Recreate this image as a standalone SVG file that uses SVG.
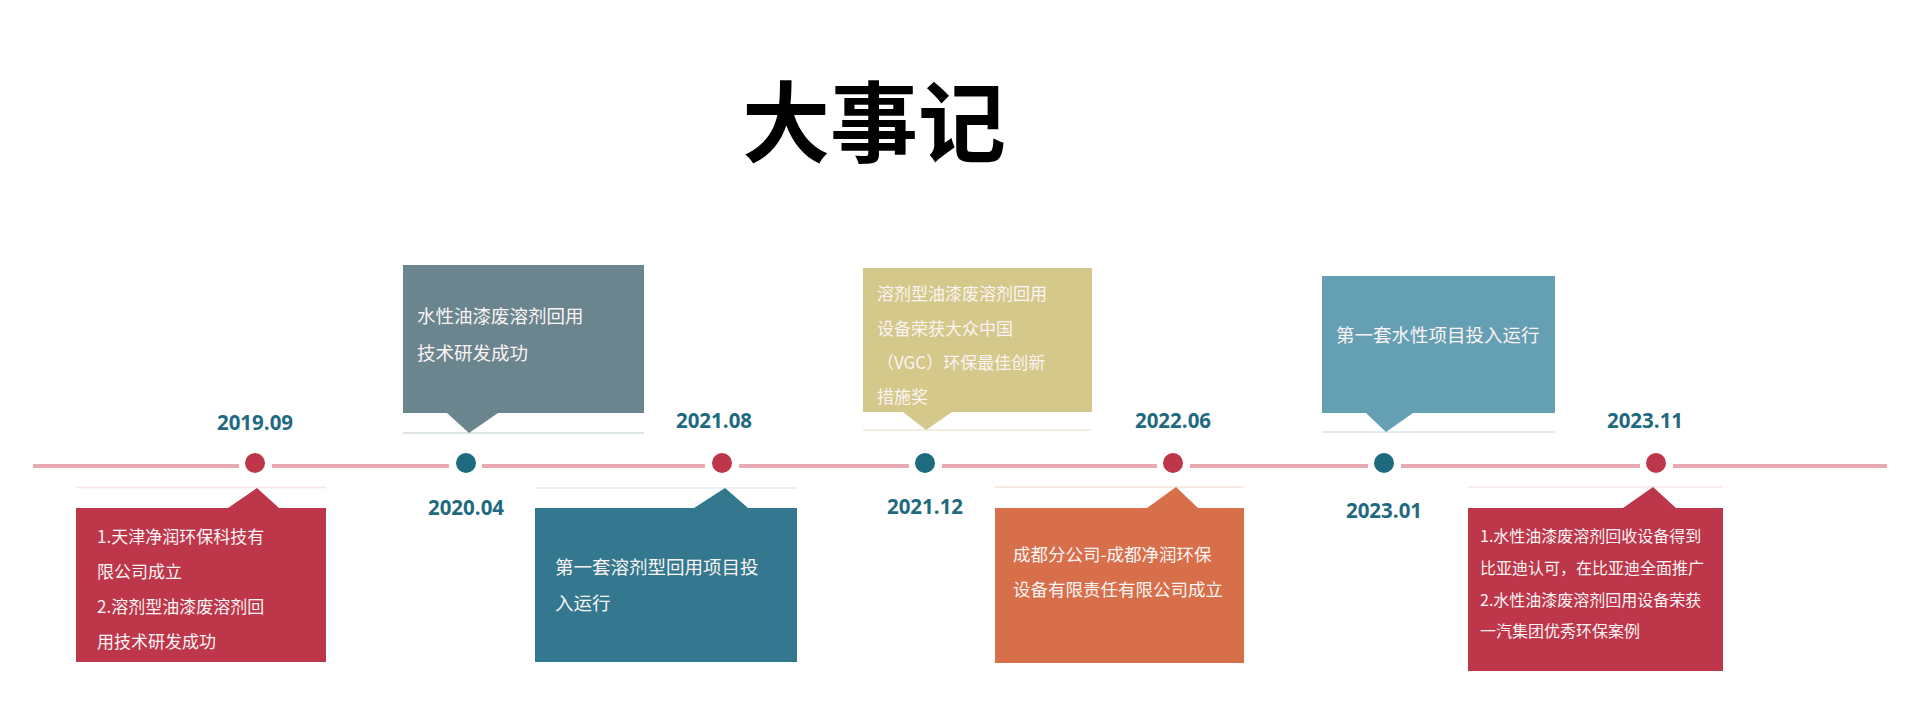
<svg xmlns="http://www.w3.org/2000/svg" width="1920" height="706" viewBox="0 0 1920 706">
<style>
.title{font-family:"Noto Sans CJK SC","Noto Sans",sans-serif;font-weight:700;font-size:88px;fill:#000}
.date{font-family:"Open Sans","Noto Sans",sans-serif;font-weight:700;font-size:20.5px;fill:#1f6a80;text-anchor:middle}
.bt{font-family:"Noto Sans CJK SC","Noto Sans",sans-serif;fill:#fbf4f4}
.tl{stroke:#e8a9b1;stroke-width:4;fill:none}
.sep{stroke-width:1.5;fill:none}
.red{fill:#bd364a}
.teal{fill:#1e6b80}
</style>
<rect width="1920" height="706" fill="#fff"/>
<text class="title" x="874" y="155" text-anchor="middle">大事记</text>
<g id="connectors">
<line class="tl" x1="33" y1="466" x2="239" y2="466"/>
<line class="tl" x1="272" y1="466" x2="449" y2="466"/>
<line class="tl" x1="482" y1="466" x2="705" y2="466"/>
<line class="tl" x1="739" y1="466" x2="909" y2="466"/>
<line class="tl" x1="942" y1="466" x2="1157" y2="466"/>
<line class="tl" x1="1190" y1="466" x2="1368" y2="466"/>
<line class="tl" x1="1401" y1="466" x2="1640" y2="466"/>
<line class="tl" x1="1673" y1="466" x2="1887" y2="466"/>
</g>
<g id="m1">
<circle class="red" cx="255" cy="463" r="10"/>
<text class="date" x="255" y="430">2019.09</text>
<line class="sep" x1="76" y1="487.5" x2="326" y2="487.5" stroke="#f4e4e6"/>
<path class="red" d="M76 508H228L257 488L279 508H326V662H76Z"/>
<text class="bt" font-size="17"><tspan x="97" y="543">1.天津净润环保科技有</tspan><tspan x="97" y="578">限公司成立</tspan><tspan x="97" y="613">2.溶剂型油漆废溶剂回</tspan><tspan x="97" y="648">用技术研发成功</tspan></text>
</g>
<g id="m2">
<circle class="teal" cx="466" cy="463" r="10"/>
<text class="date" x="466" y="514.5">2020.04</text>
<line class="sep" x1="403" y1="433" x2="644" y2="433" stroke="#d3dde0"/>
<path fill="#6b858e" d="M403 265H644V413H498L469 433L447 413H403Z"/>
<text class="bt" font-size="18.5"><tspan x="417" y="322.5">水性油漆废溶剂回用</tspan><tspan x="417" y="359.5">技术研发成功</tspan></text>
</g>
<g id="m3">
<circle class="red" cx="722" cy="463" r="10"/>
<text class="date" x="714" y="428">2021.08</text>
<line class="sep" x1="535" y1="488" x2="797" y2="488" stroke="#e3eef1"/>
<path fill="#33788f" d="M535 508H694L725 488L748 508H797V662H535Z"/>
<text class="bt" font-size="18.5"><tspan x="555" y="573.5">第一套溶剂型回用项目投</tspan><tspan x="555" y="609.5">入运行</tspan></text>
</g>
<g id="m4">
<circle class="teal" cx="925" cy="463" r="10"/>
<text class="date" x="925" y="514">2021.12</text>
<line class="sep" x1="863" y1="430" x2="1092" y2="430" stroke="#efe9d3"/>
<path fill="#d5c88b" d="M863 268H1092V412H952L926 430L903 412H863Z"/>
<text class="bt" font-size="17"><tspan x="877" y="300">溶剂型油漆废溶剂回用</tspan><tspan x="877" y="335">设备荣获大众中国</tspan><tspan x="877" y="369">（VGC）环保最佳创新</tspan><tspan x="877" y="403">措施奖</tspan></text>
</g>
<g id="m5">
<circle class="red" cx="1173" cy="463" r="10"/>
<text class="date" x="1173" y="428">2022.06</text>
<line class="sep" x1="995" y1="487" x2="1244" y2="487" stroke="#f5e3db"/>
<path fill="#d76f4a" d="M995 508H1147L1176 487L1198 508H1244V663H995Z"/>
<text class="bt" font-size="17.5"><tspan x="1013" y="561">成都分公司-成都净润环保</tspan><tspan x="1013" y="596">设备有限责任有限公司成立</tspan></text>
</g>
<g id="m6">
<circle class="teal" cx="1384" cy="463" r="10"/>
<text class="date" x="1384" y="517.5">2023.01</text>
<line class="sep" x1="1322" y1="432" x2="1555" y2="432" stroke="#d8e6eb"/>
<path fill="#659fb3" d="M1322 276H1555V413H1413L1386 432L1366 413H1322Z"/>
<text class="bt" font-size="18.5"><tspan x="1336" y="341.5">第一套水性项目投入运行</tspan></text>
</g>
<g id="m7">
<circle class="red" cx="1656" cy="463" r="10"/>
<text class="date" x="1645" y="428">2023.11</text>
<line class="sep" x1="1468" y1="487" x2="1723" y2="487" stroke="#f4e4e6"/>
<path class="red" d="M1468 508H1623L1653 487L1676 508H1723V671H1468Z"/>
<text class="bt" font-size="16"><tspan x="1480" y="541.5">1.水性油漆废溶剂回收设备得到</tspan><tspan x="1480" y="573.5">比亚迪认可，在比亚迪全面推广</tspan><tspan x="1480" y="605.5">2.水性油漆废溶剂回用设备荣获</tspan><tspan x="1480" y="636.5">一汽集团优秀环保案例</tspan></text>
</g>
</svg>
